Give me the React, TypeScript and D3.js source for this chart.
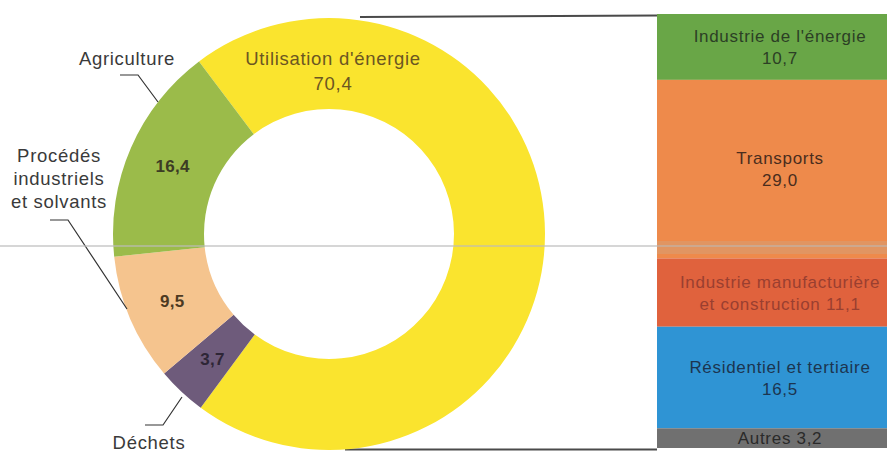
import React from "react";
import * as d3 from "d3";

const W = 887;
const H = 452;

// Donut: total emissions split (clockwise from start angle)
const sourceLabels = ["Utilisation d'énergie", "Déchets", "Procédés industriels et solvants", "Agriculture"];
const sourceValues = [70.4, 3.7, 9.5, 16.4];
const sourceValueText = ["70,4", "3,7", "9,5", "16,4"];
const sourceColors = ["#FAE42E", "#6E5B7B", "#F5C48E", "#9BBB4A"];

// Stacked bar: breakdown of energy use
const energyLabels = ["Industrie de l'énergie", "Transports", "Industrie manufacturière", "Résidentiel et tertiaire", "Autres"];
const energyValues = [10.7, 29.0, 11.1, 16.5, 3.2];
const energyText = [
  ["Industrie de l'énergie", "10,7"],
  ["Transports", "29,0"],
  ["Industrie manufacturière", "et construction 11,1"],
  ["Résidentiel et tertiaire", "16,5"],
  ["Autres 3,2"],
];
const energyColors = ["#69A647", "#EE8A4B", "#E0623D", "#2F94D4", "#707070"];
const energyTextColors = ["#2c3f25", "#4a2d1d", "#9a3f30", "#1c3550", "#2a2a2a"];

const FONT = "'Liberation Sans', Arial, Helvetica, sans-serif";

export default function App() {
  const cx = 329;
  const cy = 234;
  const outerR = 216;
  const innerR = 125;
  const start = (-37 * Math.PI) / 180;

  const pie = d3
    .pie<number>()
    .sort(null)
    .value((d) => d)
    .startAngle(start)
    .endAngle(start + 2 * Math.PI);
  const arcs = pie(sourceValues);
  const arc = d3.arc<d3.PieArcDatum<number>>().innerRadius(innerR).outerRadius(outerR);

  const total = d3.sum(energyValues);
  const y = d3.scaleLinear().domain([0, total]).range([14, 448]);
  const cum = energyValues.reduce<number[]>((acc, v, i) => {
    acc.push((i === 0 ? 0 : acc[i - 1]) + v);
    return acc;
  }, []);
  const barX = 657;
  const barW = 252;
  const barCx = 780;

  const txt = { fontFamily: FONT, fontSize: 18.5, letterSpacing: 0.7 } as React.CSSProperties;

  return (
    <svg
      width={W}
      height={H}
      viewBox={`0 0 ${W} ${H}`}
      style={{ position: "absolute", left: 0, top: 0, background: "#fff" }}
    >
      <rect width={W} height={H} fill="#fff" />

      {/* connecting lines */}
      <line x1={360} y1={17} x2={barX} y2={15.5} stroke="#4a4a4a" strokeWidth={2} />
      <line x1={345} y1={449.5} x2={barX} y2={449.5} stroke="#4a4a4a" strokeWidth={2} />

      {/* donut */}
      <g transform={`translate(${cx},${cy})`}>
        {arcs.map((a, i) => (
          <path key={sourceLabels[i]} d={arc(a) || ""} fill={sourceColors[i]} />
        ))}
        {arcs.map((a, i) => {
          if (i === 0) return null;
          const [px, py] = arc.centroid(a);
          const col = ["", "#2e2636", "#4d3a22", "#3c3c24"][i];
          return (
            <text
              key={"v" + i}
              x={px}
              y={py}
              dy="0.36em"
              textAnchor="middle"
              style={{ ...txt, fontSize: 17, fontWeight: 700, letterSpacing: 0.3 }}
              fill={col}
            >
              {sourceValueText[i]}
            </text>
          );
        })}
      </g>

      {/* energy-use label */}
      <text x={333} y={65} textAnchor="middle" style={txt} fill="#6B5622">
        {sourceLabels[0]}
      </text>
      <text x={333} y={90} textAnchor="middle" style={txt} fill="#6B5622">
        {sourceValueText[0]}
      </text>

      {/* outside labels with leaders */}
      <text x={127} y={65} textAnchor="middle" style={txt} fill="#3a3a3a">
        {sourceLabels[3]}
      </text>
      <polyline points="120,75 138,75 158,102" fill="none" stroke="#333" strokeWidth={1.2} />

      <text textAnchor="middle" style={txt} fill="#3a3a3a">
        <tspan x={59} y={162}>Procédés</tspan>
        <tspan x={59} y={185}>industriels</tspan>
        <tspan x={59} y={208}>et solvants</tspan>
      </text>
      <polyline points="50,220 68,220 127,309" fill="none" stroke="#333" strokeWidth={1.2} />

      <polyline points="182,397 163,425 145,425" fill="none" stroke="#333" strokeWidth={1.2} />
      <text x={149} y={449} textAnchor="middle" style={txt} fill="#3a3a3a">
        {sourceLabels[1]}
      </text>

      {/* stacked bar */}
      {energyValues.map((v, i) => {
        const y0 = y(cum[i] - v);
        const y1 = y(cum[i]);
        return <rect key={energyLabels[i]} x={barX} y={y0} width={barW} height={y1 - y0} fill={energyColors[i]} />;
      })}
      {energyValues.map((v, i) => {
        const y0 = y(cum[i] - v);
        const y1 = y(cum[i]);
        const mid = (y0 + y1) / 2;
        const lines = energyText[i];
        const lh = 22;
        const first = mid - ((lines.length - 1) * lh) / 2;
        return (
          <text
            key={"t" + i}
            textAnchor="middle"
            style={{ ...txt, fontSize: 17, letterSpacing: 0.7 }}
            fill={energyTextColors[i]}
          >
            {lines.map((l, j) => (
              <tspan key={j} x={barCx} y={first + j * lh} dy="0.36em">
                {l}
              </tspan>
            ))}
          </text>
        );
      })}

      {/* scan fold line */}
      <line x1={0} y1={246} x2={W} y2={246} stroke="#bdbdbd" strokeWidth={1.5} opacity={0.8} />
      <rect x={barX} y={241} width={barW} height={13} fill="#c9a890" opacity={0.35} />
    </svg>
  );
}
